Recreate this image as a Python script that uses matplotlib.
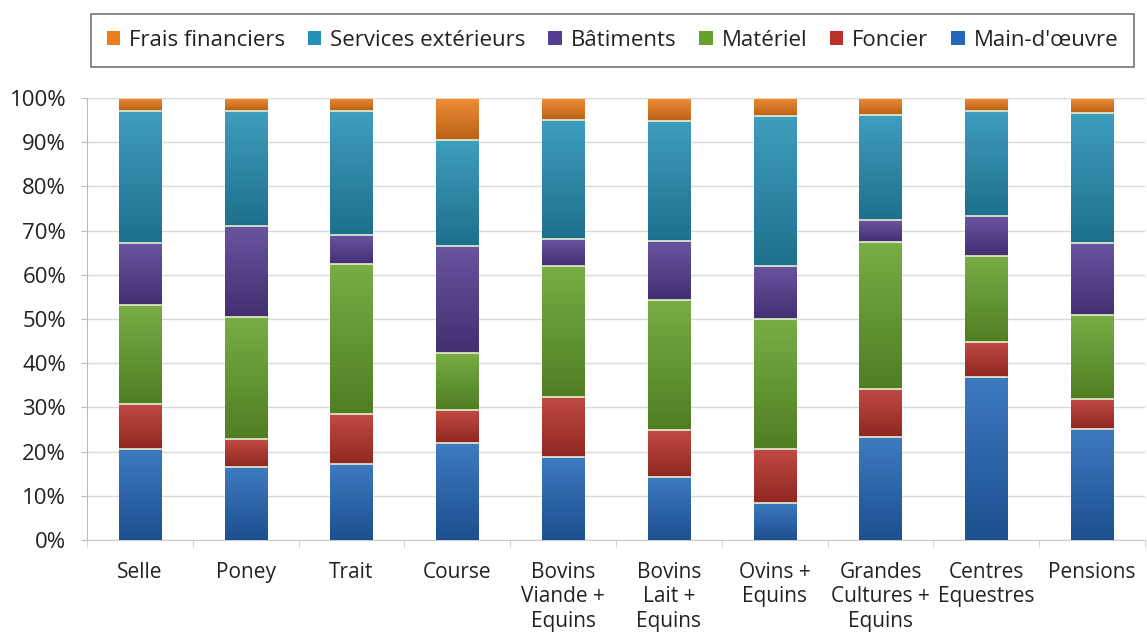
import numpy as np
import matplotlib.pyplot as plt
from matplotlib.patches import Patch
from matplotlib.colors import to_rgb

# categories (x labels)
categories = ['Selle', 'Poney', 'Trait', 'Course', 'Bovins\nViande +\nEquins',
              'Bovins\nLait +\nEquins', 'Ovins +\nEquins', 'Grandes\nCultures +\nEquins',
              'Centres\nEquestres', 'Pensions']

# shares in % (bottom to top)
main_oeuvre = [20.7, 16.5, 17.3, 21.9, 18.7, 14.2, 8.4, 23.2, 36.9, 25.2]
foncier = [10.0, 6.3, 11.2, 7.4, 13.6, 10.6, 12.3, 10.9, 8.0, 6.6]
materiel = [22.5, 27.6, 34.0, 13.0, 29.8, 29.6, 29.2, 33.4, 19.3, 19.0]
batiments = [14.0, 20.6, 6.5, 24.3, 6.0, 13.3, 12.0, 4.9, 9.0, 16.4]
services = [29.8, 26.1, 28.0, 23.9, 27.0, 27.1, 34.0, 23.7, 23.9, 29.5]
frais = [3.0, 2.9, 3.0, 9.5, 4.9, 5.2, 4.1, 3.9, 2.9, 3.3]

series = [
    ("Main-d'œuvre", main_oeuvre, '#2467b8'),
    ('Foncier', foncier, '#b8322a'),
    ('Matériel', materiel, '#66a22c'),
    ('Bâtiments', batiments, '#553d92'),
    ('Services extérieurs', services, '#2590b5'),
    ('Frais financiers', frais, '#ee7d1c'),
]

plt.rcParams['font.family'] = ['Open Sans', 'DejaVu Sans']
plt.rcParams['text.color'] = '#222222'
plt.rcParams['xtick.labelcolor'] = '#222222'
plt.rcParams['ytick.labelcolor'] = '#222222'

fig = plt.figure(figsize=(11.47, 6.35), dpi=100)
ax = fig.add_axes([87 / 1147, 1 - 540 / 635, (1145 - 87) / 1147, (540 - 98) / 635])


def shade(col):
    # vertical gradient: lighter on top, darker at the bottom
    c = np.array(to_rgb(col))
    t = np.linspace(0, 1, 64)[:, None]
    top = c + (1 - c) * 0.12
    bot = c * 0.78
    return (top * (1 - t) + bot * t)[:, None, :]


x = np.arange(len(categories))
bar_width = 0.4
bottom = np.zeros(len(categories))
handles = []
for name, vals, col in series:
    vals = np.array(vals)
    bars = ax.bar(x, vals, bar_width, bottom=bottom, color='none',
                  edgecolor='none', zorder=3)
    img = shade(col)
    for b in bars:
        ax.imshow(img, extent=(b.get_x(), b.get_x() + b.get_width(),
                               b.get_y(), b.get_y() + b.get_height()),
                  aspect='auto', origin='upper', zorder=3, interpolation='bilinear')
        ax.plot([b.get_x(), b.get_x() + b.get_width()], [b.get_y() + b.get_height()] * 2,
                color='#e6efd2', lw=1.2, zorder=4)
    bottom += vals
    handles.append(Patch(facecolor=col, label=name))

ax.set_xlim(-0.5, len(categories) - 0.5)
ax.set_ylim(0, 100)
ax.set_yticks(np.arange(0, 101, 10))
ax.set_yticklabels([f'{v}%' for v in range(0, 101, 10)], fontsize=16)
ax.set_xticks(x)
ax.set_xticklabels(categories, fontsize=15, linespacing=1.2, va='top')
ax.tick_params(axis='x', length=0, pad=16)
ax.tick_params(axis='y', length=4, color='#bbbbbb', pad=11)
ax.set_xticks(np.arange(-0.5, len(categories)), minor=True)
ax.tick_params(axis='x', which='minor', length=5, color='#cccccc')

ax.grid(axis='y', color='#d9d9d9', linewidth=1, zorder=0)
for s in ['top', 'right']:
    ax.spines[s].set_visible(False)
ax.spines['left'].set_color('#bbbbbb')
ax.spines['bottom'].set_color('#cccccc')

# legend in reversed order, single row in a box
leg = fig.legend(handles=handles[::-1], loc='center', ncol=6,
                 bbox_to_anchor=(80 / 1147, 1 - 68 / 635, (1145 - 80) / 1147, 55 / 635),
                 mode='expand', frameon=True, fancybox=False, edgecolor='#555555',
                 handlelength=0.6, handleheight=0.6, handletextpad=0.4, columnspacing=1.0,
                 borderpad=0.7, prop={'size': 16})
leg.get_frame().set_linewidth(1.2)

fig.savefig('out.png', dpi=100)
